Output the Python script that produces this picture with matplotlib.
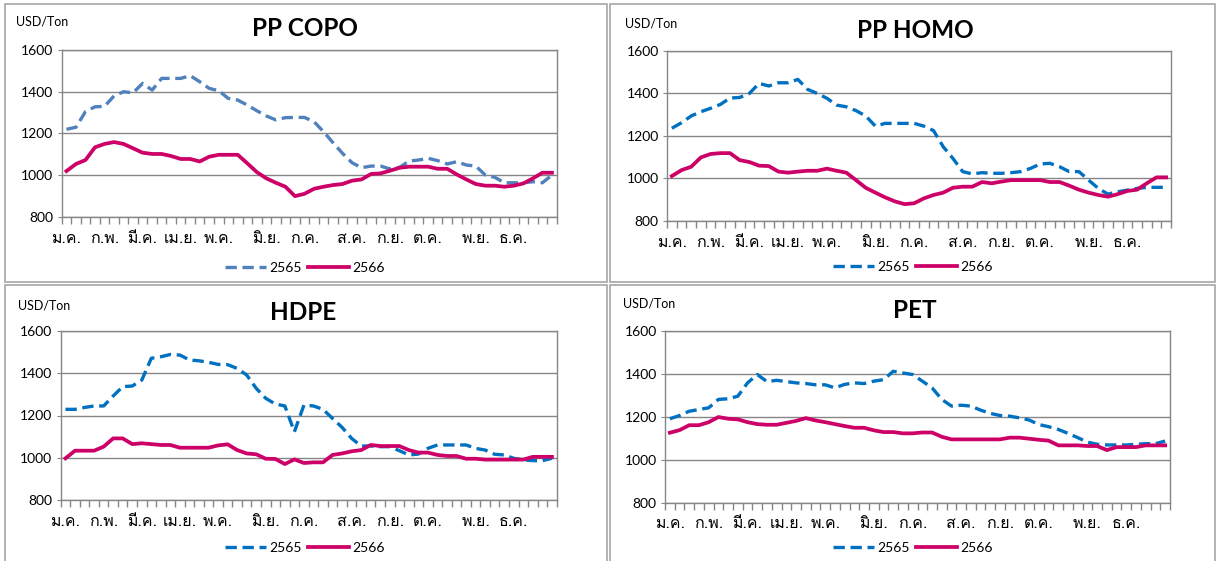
import numpy as np
import matplotlib
matplotlib.use("Agg")
import matplotlib.pyplot as plt
from matplotlib import font_manager, ft2font
from matplotlib.patches import Rectangle

# ---- data (weekly, 52 points per year) ----
months = ["ม.ค.", "ก.พ.", "มี.ค.", "เม.ย.", "พ.ค.", "มิ.ย.",
          "ก.ค.", "ส.ค.", "ก.ย.", "ต.ค.", "พ.ย.", "ธ.ค."]
month_start = [0, 4, 8, 12, 16, 21, 25, 30, 34, 38, 43, 47]
series_names = ["2565", "2566"]

copo_2565 = [1220, 1230, 1305, 1328, 1330, 1380, 1400, 1395, 1440, 1408, 1464, 1464, 1464,
             1477, 1448, 1416, 1405, 1368, 1360, 1336, 1309, 1284, 1265, 1276, 1277, 1277,
             1257, 1209, 1156, 1105, 1060, 1036, 1044, 1044, 1030, 1038, 1068, 1073, 1081,
             1070, 1054, 1065, 1049, 1044, 1001, 990, 964, 964, 964, 969, 964, 1001]
copo_2566 = [1020, 1054, 1073, 1134, 1150, 1159, 1150, 1129, 1108, 1102, 1102, 1092, 1078,
             1078, 1066, 1089, 1098, 1098, 1098, 1057, 1015, 985, 964, 945, 900, 911,
             935, 945, 953, 958, 974, 980, 1006, 1009, 1022, 1036, 1041, 1041, 1041,
             1031, 1031, 1004, 980, 958, 950, 950, 945, 950, 961, 985, 1012, 1012]

homo_2565 = [1235, 1261, 1293, 1313, 1329, 1347, 1377, 1380, 1399, 1446, 1434, 1449, 1449,
             1465, 1418, 1399, 1376, 1344, 1336, 1318, 1293, 1245, 1258, 1258, 1258, 1258,
             1245, 1224, 1148, 1093, 1031, 1020, 1026, 1023, 1023, 1026, 1031, 1046, 1067,
             1070, 1054, 1031, 1031, 991, 952, 925, 936, 944, 952, 957, 957, 957]
homo_2566 = [1010, 1038, 1054, 1098, 1114, 1118, 1118, 1085, 1076, 1059, 1057, 1031, 1026,
             1031, 1035, 1035, 1045, 1035, 1026, 991, 955, 932, 910, 891, 878, 882,
             905, 921, 932, 955, 960, 960, 982, 976, 984, 991, 991, 991, 991,
             982, 982, 965, 946, 932, 921, 913, 925, 940, 946, 976, 1004, 1004]

hdpe_2565 = [1229, 1229, 1238, 1245, 1245, 1292, 1336, 1339, 1367, 1470, 1477, 1488, 1485,
             1462, 1458, 1451, 1441, 1440, 1422, 1391, 1328, 1281, 1254, 1245, 1123, 1249,
             1245, 1229, 1186, 1144, 1092, 1056, 1056, 1053, 1053, 1034, 1014, 1018, 1045,
             1061, 1061, 1061, 1061, 1045, 1037, 1017, 1014, 998, 991, 987, 987, 998]
hdpe_2566 = [998, 1034, 1034, 1034, 1053, 1092, 1092, 1065, 1069, 1065, 1061, 1061, 1048,
             1048, 1048, 1048, 1059, 1064, 1037, 1021, 1017, 996, 995, 971, 993, 976,
             979, 979, 1014, 1021, 1031, 1037, 1061, 1056, 1056, 1056, 1037, 1025, 1025,
             1014, 1009, 1009, 996, 996, 992, 992, 992, 992, 992, 1005, 1005, 1005]

pet_2565 = [1190, 1205, 1225, 1233, 1241, 1280, 1283, 1295, 1357, 1396, 1363, 1369, 1363,
            1357, 1354, 1348, 1348, 1334, 1350, 1357, 1354, 1365, 1372, 1411, 1403, 1396,
            1365, 1334, 1280, 1249, 1253, 1249, 1230, 1215, 1205, 1202, 1194, 1184, 1163,
            1153, 1140, 1122, 1102, 1081, 1071, 1068, 1068, 1068, 1071, 1074, 1074, 1086]
pet_2566 = [1125, 1137, 1160, 1160, 1174, 1198, 1190, 1187, 1174, 1165, 1162, 1162, 1171,
            1180, 1193, 1182, 1174, 1165, 1156, 1148, 1148, 1136, 1128, 1128, 1122, 1122,
            1126, 1126, 1106, 1094, 1094, 1094, 1094, 1094, 1094, 1102, 1102, 1097, 1092,
            1088, 1066, 1066, 1066, 1063, 1063, 1044, 1058, 1058, 1058, 1066, 1066, 1066]

weeks = [""] * 52
for m, s in zip(months, month_start):
    weeks[s] = m

# ---- fonts: find something that can draw Thai ----
thai_font = None
for path in sorted(font_manager.findSystemFonts()):
    try:
        cmap = ft2font.FT2Font(path).get_charmap()
    except Exception:
        continue
    if 0x0E21 in cmap and 0x0E04 in cmap and 0x0E35 in cmap:
        thai_font = font_manager.FontProperties(fname=path).get_name()
        break

plt.rcParams["font.family"] = ["Lato", "DejaVu Sans"]
month_family = [thai_font, "Lato", "DejaVu Sans"] if thai_font else ["Lato", "DejaVu Sans"]

W, H = 1218, 561
fig = plt.figure(figsize=(W / 100, H / 100), dpi=100, facecolor="white")

grid_c = "#868686"


def px_rect(l, t, r, b):
    return [l / W, 1 - b / H, (r - l) / W, (b - t) / H]


def draw_panel(box, plot, title, title_xy, unit_xy, legend_xy, y65, y66, c65):
    # panel frame
    fig.add_artist(Rectangle((box[0] / W, 1 - box[3] / H), (box[2] - box[0]) / W,
                             (box[3] - box[1]) / H, transform=fig.transFigure,
                             fill=False, ec="#A6A6A6", lw=1.2))
    ax = fig.add_axes(px_rect(*plot))
    x = np.arange(len(weeks))
    l1, = ax.plot(x, y65, color=c65, lw=2.4, ls=(0, (3.4, 1.7)), label=series_names[0])
    l2, = ax.plot(x, y66, color="#CC0066", lw=2.7, label=series_names[1],
                  solid_joinstyle="round")
    ax.set_xlim(-0.5, len(weeks) - 0.5)
    ax.set_ylim(800, 1600)
    ax.set_yticks([800, 1000, 1200, 1400, 1600])
    ax.yaxis.grid(True, color=grid_c, lw=1)
    ax.set_axisbelow(True)
    for sp in ax.spines.values():
        sp.set_color(grid_c)
        sp.set_linewidth(1)
    ax.set_xticks(np.arange(-0.5, len(weeks)), [""] * (len(weeks) + 1))
    ax.set_xticks([s for s in range(len(weeks)) if weeks[s]],
                  [w for w in weeks if w], minor=True)
    ax.tick_params(axis="x", which="major", length=5, color=grid_c, width=1)
    ax.tick_params(axis="x", which="minor", length=0, pad=10, labelsize=11.5)
    ax.tick_params(axis="y", length=3, color=grid_c, pad=3, labelsize=10)
    for lab in ax.get_xticklabels(minor=True):
        lab.set_family(month_family)
    fig.text(title_xy[0] / W, 1 - title_xy[1] / H, title, ha="center", va="center",
             fontsize=17.5, fontweight="bold")
    fig.text(unit_xy[0] / W, 1 - unit_xy[1] / H, "USD/Ton", ha="left", va="center",
             fontsize=9)
    fig.legend(handles=[l1, l2], loc="center", bbox_to_anchor=(legend_xy[0] / W, 1 - legend_xy[1] / H),
               bbox_transform=fig.transFigure, ncol=2, frameon=False, fontsize=10,
               handlelength=2.9, handletextpad=0.25, columnspacing=0.5)
    return ax


draw_panel((5, 4, 607, 282), (61.7, 50, 556.7, 217), "PP COPO", (305, 28), (16, 22),
           (305, 268), copo_2565, copo_2566, "#4F81BD")
draw_panel((610, 4, 1215, 282), (667, 50.7, 1171, 220.7), "PP HOMO", (915, 30), (625, 23),
           (913, 267), homo_2565, homo_2566, "#0070C0")
draw_panel((5, 285, 607, 565), (60.7, 330.7, 556.7, 500.3), "HDPE", (303, 312), (18, 305),
           (305, 548), hdpe_2565, hdpe_2566, "#0070C0")
draw_panel((610, 285, 1215, 565), (665, 330.7, 1170, 502.5), "PET", (915, 311), (623, 303),
           (913, 548), pet_2565, pet_2566, "#0070C0")

fig.savefig("out.png", dpi=100, facecolor="white")
